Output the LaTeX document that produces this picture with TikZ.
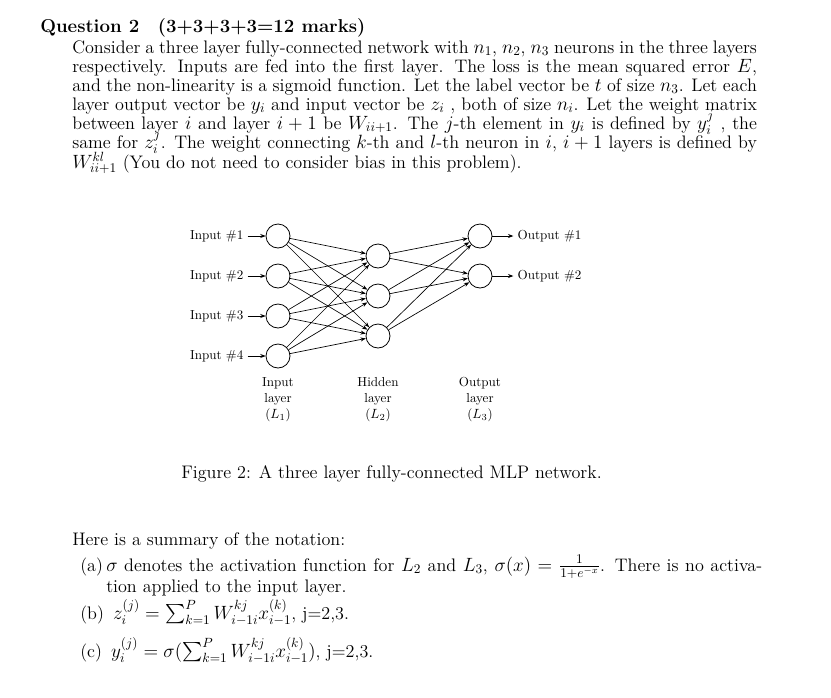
\documentclass[tikz,border=0pt]{standalone}
\usepackage{amsmath}
\usetikzlibrary{arrows.meta}
\begin{document}
\begin{tikzpicture}[x=0.75pt,y=-0.75pt,
  neuron/.style={circle,draw,line width=0.6pt,minimum size=18pt,inner sep=0pt},
  conn/.style={-{Stealth[length=4pt,width=3pt]},line width=0.5pt},
  txt/.style={anchor=base west,inner sep=0pt,font=\fontsize{13.6}{15}\selectfont},
  small/.style={font=\fontsize{9.8}{12}\selectfont,inner sep=1pt}]
\useasboundingbox (0,0) rectangle (831,697);
\fill[white] (0,0) rectangle (831,697);
\node[anchor=base west,inner sep=0pt,font=\fontsize{14}{16}\selectfont\bfseries] (h) at (40,32) {Question 2\quad(3+3+3+3=12 marks)};
\def\W{513.5pt}
\node[txt] (l1) at (72,53) {\makebox[\W][s]{Consider a three layer fully-connected network with $n_1$, $n_2$, $n_3$ neurons in the three layers}};
\node[txt] (l2) at (72,72) {\makebox[\W][s]{respectively. Inputs are fed into the first layer. The loss is the mean squared error $E$,}};
\node[txt] (l3) at (72,91) {\makebox[\W][s]{and the non-linearity is a sigmoid function. Let the label vector be $t$ of size $n_3$. Let each}};
\node[txt] (l4) at (72,110) {\makebox[\W][s]{layer output vector be $y_i$ and input vector be $z_i$ , both of size $n_i$. Let the weight matrix}};
\node[txt] (l5) at (72,129) {\makebox[\W][s]{between layer $i$ and layer $i+1$ be $W_{ii+1}$. The $j$-th element in $y_i$ is defined by $y_i^j$ , the}};
\node[txt] (l6) at (72,148) {\makebox[\W][s]{same for $z_i^j$. The weight connecting $k$-th and $l$-th neuron in $i$, $i+1$ layers is defined by}};
\node[txt] (l7) at (72,168) {$W_{ii+1}^{kl}$ (You do not need to consider bias in this problem).};

% network
\foreach \k/\y in {1/236,2/276,3/316,4/356} {
  \node[neuron] (i\k) at (278,\y) {};
  \node[small,anchor=east] (il\k) at (245,\y) {Input \#\k};
  \draw[conn] ([xshift=2pt]il\k.east) -- (i\k);
}
\foreach \k/\y in {1/256,2/296,3/336} \node[neuron] (hd\k) at (378,\y) {};
\foreach \k/\y in {1/236,2/276} {
  \node[neuron] (o\k) at (480,\y) {};
  \node[small,anchor=west] (ol\k) at (516,\y) {Output \#\k};
  \draw[conn] (o\k) -- ([xshift=-2pt]ol\k.west);
}
\foreach \a in {1,...,4} \foreach \b in {1,2,3} \draw[conn] (i\a) -- (hd\b);
\foreach \a in {1,2,3} \foreach \b in {1,2} \draw[conn] (hd\a) -- (o\b);
\node[small,align=center,anchor=north] (c1) at (278,376) {Input\\layer\\($L_1$)};
\node[small,align=center,anchor=north] (c2) at (378,376) {Hidden\\layer\\($L_2$)};
\node[small,align=center,anchor=north] (c3) at (480,376) {Output\\layer\\($L_3$)};

\node[txt] (cap) at (181,478) {Figure 2: A three layer fully-connected MLP network.};
\node[txt] (s) at (72,545) {Here is a summary of the notation:};
\node[txt] (a1) at (80,571) {(a)};
\node[txt] (a2) at (106,571) {\makebox[492pt][s]{$\sigma$ denotes the activation function for $L_2$ and $L_3$, $\sigma(x)=\frac{1}{1+e^{-x}}$. There is no activa-}};
\node[txt] (a3) at (106,592) {tion applied to the input layer.};
\node[txt] (b1) at (80,619) {(b)\enspace $z_i^{(j)}=\sum_{k=1}^{P}W_{i-1i}^{kj}x_{i-1}^{(k)}$, j=2,3.};
\node[txt] (c1t) at (80,657) {(c)\enspace $y_i^{(j)}=\sigma(\sum_{k=1}^{P}W_{i-1i}^{kj}x_{i-1}^{(k)})$, j=2,3.};
\end{tikzpicture}
\end{document}
